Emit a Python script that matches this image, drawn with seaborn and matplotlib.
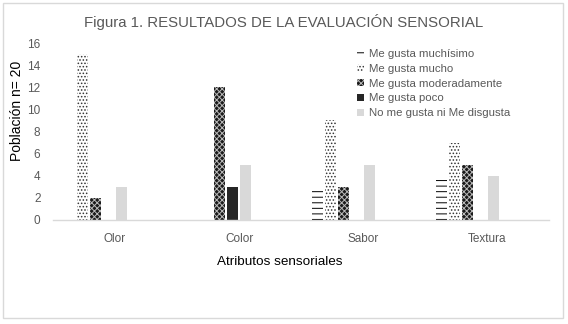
import matplotlib
matplotlib.use("Agg")
import matplotlib.pyplot as plt
import seaborn as sns
import pandas as pd
from matplotlib.patches import Rectangle

categories = ["Olor", "Color", "Sabor", "Textura"]
series = ["Me gusta muchísimo", "Me gusta mucho", "Me gusta moderadamente",
          "Me gusta poco", "No me gusta ni Me disgusta",
          "Me disgusta poco", "Me disgusta moderadamente", "Me disgusta mucho"]
values = {
    "Me gusta muchísimo": [0, 0, 3, 4],
    "Me gusta mucho": [15, 0, 9, 7],
    "Me gusta moderadamente": [2, 12, 3, 5],
    "Me gusta poco": [0, 3, 0, 0],
    "No me gusta ni Me disgusta": [3, 5, 5, 4],
    "Me disgusta poco": [0, 0, 0, 0],
    "Me disgusta moderadamente": [0, 0, 0, 0],
    "Me disgusta mucho": [0, 0, 0, 0],
}
legend_series = series[:5]

rows = []
for s in series:
    for c, v in zip(categories, values[s]):
        rows.append({"Atributo": c, "Serie": s, "Valor": v})
df = pd.DataFrame(rows)

sns.set_theme(style="white")
plt.rcParams['font.family'] = ['Liberation Sans', 'DejaVu Sans']
plt.rcParams['hatch.linewidth'] = 0.7

fig = plt.figure(figsize=(5.68, 3.24), dpi=100)
ax = fig.add_axes([53/568, 1-220/324, 496/568, 177/324])

palette = ["white", "white", "white", "#262626", "#d9d9d9", "white", "white", "white"]
sns.barplot(data=df, x="Atributo", y="Valor", hue="Serie", hue_order=series,
            order=categories, palette=palette, width=0.84, gap=0.2,
            ax=ax, legend=False, edgecolor="none", linewidth=0)

styles = {
    0: ("white", "---", "black"),
    1: ("white", ".....", "#333333"),
    2: ("#1a1a1a", "xxxxxx", "#bbbbbb"),
}
for i, cont in enumerate(ax.containers):
    for bar in cont:
        if i in styles:
            fc, h, ec = styles[i]
            bar.set_facecolor(fc)
            bar.set_hatch(h)
            bar.set_edgecolor(ec)
            bar.set_linewidth(0)

ax.set_ylim(0, 16)
ax.set_yticks(range(0, 17, 2))
ax.set_xlim(-0.5, 3.5)
for s in ["top", "right", "left"]:
    ax.spines[s].set_visible(False)
ax.spines["bottom"].set_color("#d9d9d9")
ax.spines["bottom"].set_linewidth(1)
ax.tick_params(axis="y", colors="#595959", labelsize=8.5, length=0, pad=9)
ax.tick_params(axis="x", colors="#595959", labelsize=8.5, length=0, pad=9)
ax.set_xlabel("Atributos sensoriales", fontsize=9.7, color="black")
ax.set_ylabel("Población n= 20", fontsize=10, color="black")
ax.xaxis.set_label_coords((280 - 53) / 496, (220 - 262) / 177)
ax.xaxis.label.set_va("center")
ax.yaxis.set_label_coords((17 - 53) / 496, (220 - 111) / 177)
ax.yaxis.label.set_va("center")

handles = []
for i in range(5):
    b = ax.containers[i][0]
    p = Rectangle((0, 0), 1, 1, facecolor=b.get_facecolor(), hatch=b.get_hatch(),
                  edgecolor=b.get_edgecolor(), linewidth=0)
    handles.append(p)
leg = ax.legend(handles, legend_series, loc="upper left",
                bbox_to_anchor=((357 - 53) / 496, (220 - 49) / 177),
                frameon=False, fontsize=8.2, handlelength=0.6, handleheight=0.6,
                handletextpad=0.45, labelspacing=0.42, borderaxespad=0, borderpad=0)
for t in leg.get_texts():
    t.set_color("#595959")

fig.text(0.5, 1-22/324, "Figura 1. RESULTADOS DE LA EVALUACIÓN SENSORIAL",
         ha="center", va="center", fontsize=10.8, color="#595959")

fig.patches.append(Rectangle((3.5/568, 1-318/324), 559/568, 315/324,
                             transform=fig.transFigure, fill=False,
                             edgecolor="#d9d9d9", linewidth=1))

fig.savefig("out.png", dpi=100)
